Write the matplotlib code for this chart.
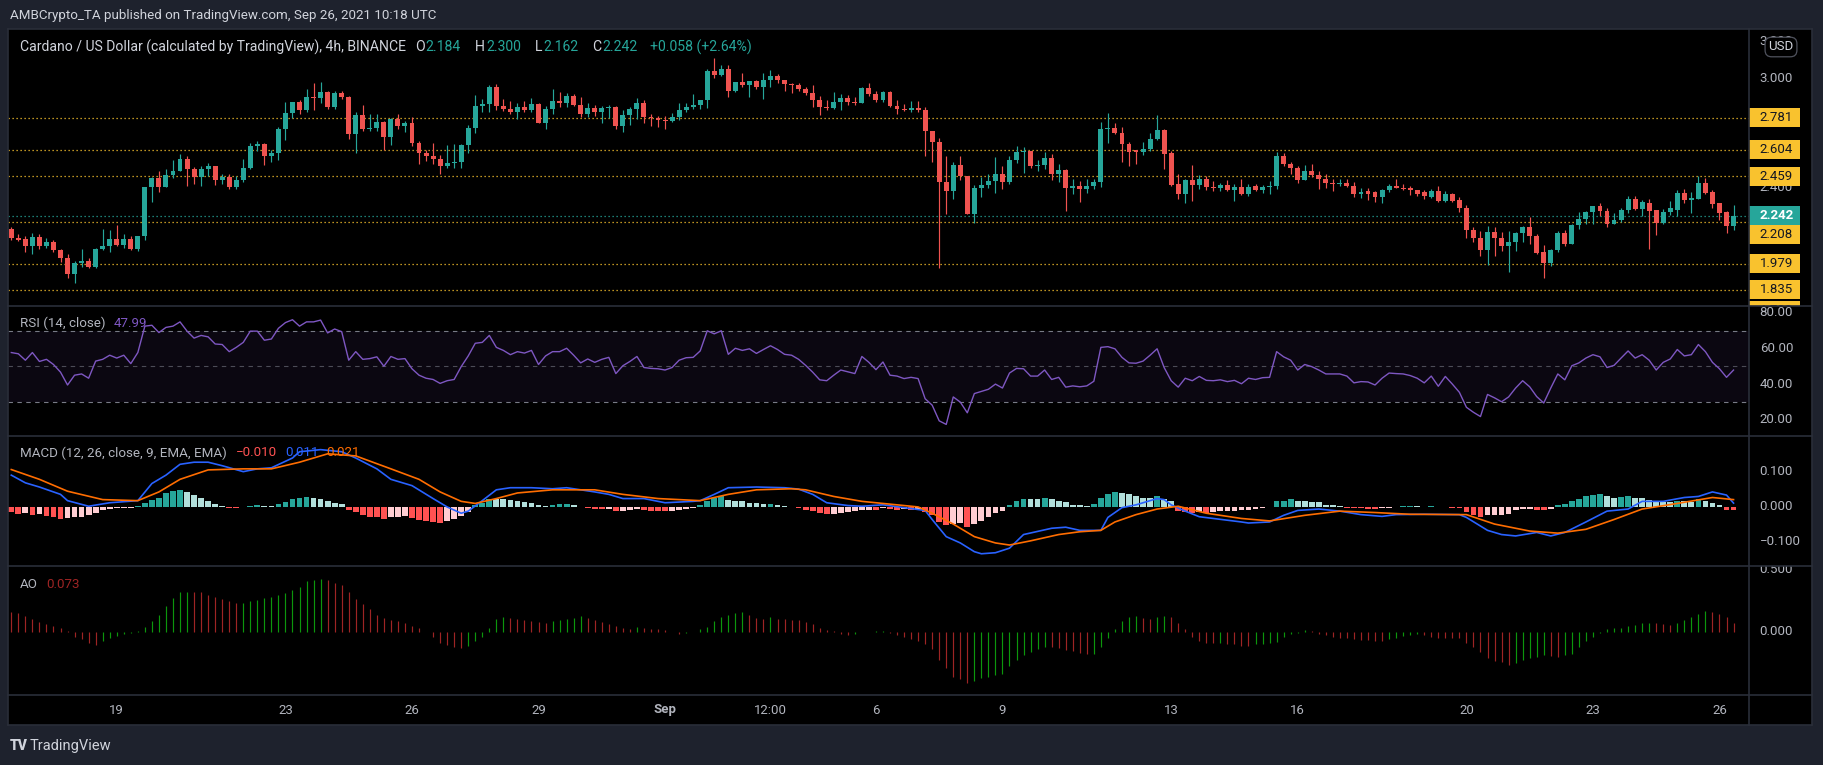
import numpy as np
import pandas as pd
import matplotlib
matplotlib.use('Agg')
import matplotlib.pyplot as plt
import matplotlib.transforms as mtransforms
from matplotlib.patches import Rectangle
from matplotlib.lines import Line2D

plt.rcParams['font.family'] = ['Roboto', 'DejaVu Sans']

# ---- 4h ADA/USD candles, first bar 2021-08-16 12:00 ----
bar_start = pd.Timestamp('2021-08-16 12:00')

opens = [
    2.171, 2.12, 2.112, 2.075, 2.126, 2.075, 2.10, 2.051, 2.01, 1.92,
    1.984, 1.995, 1.96, 2.06, 2.077, 2.112, 2.082, 2.112, 2.06, 2.13,
    2.402, 2.447, 2.40, 2.467, 2.49, 2.556, 2.498, 2.456, 2.50, 2.514,
    2.44, 2.456, 2.40, 2.44, 2.502, 2.626, 2.635, 2.572, 2.586, 2.717,
    2.808, 2.867, 2.825, 2.895, 2.888, 2.923, 2.843, 2.918, 2.895, 2.69,
    2.795, 2.72, 2.727, 2.76, 2.673, 2.773, 2.736, 2.75, 2.642, 2.586,
    2.568, 2.556, 2.514, 2.533, 2.537, 2.63, 2.724, 2.848, 2.857, 2.951,
    2.848, 2.83, 2.813, 2.841, 2.825, 2.855, 2.75, 2.832, 2.872, 2.86,
    2.90, 2.853, 2.80, 2.836, 2.813, 2.836, 2.843, 2.736, 2.797, 2.83,
    2.86, 2.783, 2.778, 2.77, 2.766, 2.785, 2.825, 2.843, 2.85, 2.88,
    3.04, 3.019, 3.05, 2.93, 2.977, 2.96, 2.984, 2.953, 2.988, 3.012,
    2.988, 2.965, 2.96, 2.94, 2.918, 2.88, 2.843, 2.836, 2.867, 2.888,
    2.867, 2.86, 2.946, 2.914, 2.88, 2.923, 2.846, 2.83, 2.825, 2.836,
    2.825, 2.706, 2.65, 2.43, 2.376, 2.521, 2.458, 2.25, 2.393, 2.41,
    2.435, 2.474, 2.428, 2.549, 2.591, 2.598, 2.516, 2.521, 2.561, 2.474,
    2.493, 2.393, 2.404, 2.39, 2.404, 2.43, 2.717, 2.724, 2.70, 2.638,
    2.603, 2.591, 2.61, 2.664, 2.715, 2.586, 2.418, 2.362, 2.44, 2.41,
    2.444, 2.402, 2.397, 2.413, 2.386, 2.402, 2.362, 2.405, 2.386, 2.402,
    2.407, 2.57, 2.528, 2.504, 2.44, 2.488, 2.465, 2.446, 2.42, 2.416,
    2.423, 2.404, 2.364, 2.379, 2.37, 2.346, 2.381, 2.406, 2.397, 2.397,
    2.381, 2.374, 2.346, 2.378, 2.325, 2.362, 2.327, 2.285, 2.166, 2.12,
    2.051, 2.154, 2.117, 2.077, 2.098, 2.145, 2.178, 2.131, 2.044, 1.984,
    2.054, 2.147, 2.089, 2.192, 2.222, 2.264, 2.297, 2.269, 2.199, 2.217,
    2.276, 2.334, 2.28, 2.311, 2.273, 2.203, 2.264, 2.276, 2.369, 2.327,
    2.334, 2.423, 2.374, 2.311, 2.264, 2.184,
]
highs = [
    2.18, 2.14, 2.128, 2.147, 2.14, 2.117, 2.11, 2.06, 2.03, 1.995,
    2.06, 2.01, 2.065, 2.17, 2.166, 2.19, 2.14, 2.13, 2.13, 2.402,
    2.455, 2.49, 2.50, 2.55, 2.584, 2.568, 2.51, 2.514, 2.533, 2.516,
    2.474, 2.47, 2.46, 2.556, 2.643, 2.656, 2.64, 2.605, 2.731, 2.87,
    2.87, 2.88, 2.941, 2.97, 2.976, 2.93, 2.93, 2.93, 2.90, 2.813,
    2.853, 2.80, 2.80, 2.766, 2.778, 2.80, 2.766, 2.785, 2.656, 2.603,
    2.642, 2.577, 2.633, 2.638, 2.638, 2.743, 2.907, 2.883, 2.96, 2.965,
    2.883, 2.876, 2.86, 2.871, 2.89, 2.86, 2.848, 2.94, 2.923, 2.918,
    2.914, 2.895, 2.86, 2.853, 2.848, 2.853, 2.848, 2.825, 2.843, 2.89,
    2.88, 2.80, 2.79, 2.79, 2.81, 2.86, 2.86, 2.914, 2.88, 3.047,
    3.11, 3.07, 3.07, 2.98, 3.03, 2.984, 2.99, 3.03, 3.044, 3.023,
    2.99, 2.975, 2.97, 2.953, 2.96, 2.90, 2.88, 2.925, 2.91, 2.907,
    2.895, 2.95, 2.97, 2.93, 2.93, 2.93, 2.88, 2.855, 2.876, 2.876,
    2.84, 2.71, 2.67, 2.568, 2.537, 2.568, 2.458, 2.41, 2.456, 2.47,
    2.563, 2.516, 2.572, 2.626, 2.619, 2.598, 2.549, 2.591, 2.579, 2.526,
    2.498, 2.444, 2.435, 2.444, 2.444, 2.76, 2.808, 2.755, 2.73, 2.65,
    2.605, 2.65, 2.70, 2.794, 2.717, 2.60, 2.47, 2.446, 2.521, 2.467,
    2.458, 2.435, 2.423, 2.44, 2.416, 2.446, 2.414, 2.414, 2.411, 2.435,
    2.591, 2.586, 2.54, 2.516, 2.521, 2.526, 2.488, 2.472, 2.444, 2.444,
    2.446, 2.428, 2.395, 2.393, 2.379, 2.388, 2.418, 2.446, 2.416, 2.406,
    2.381, 2.381, 2.39, 2.404, 2.376, 2.367, 2.346, 2.30, 2.18, 2.159,
    2.185, 2.182, 2.15, 2.159, 2.152, 2.187, 2.234, 2.14, 2.082, 2.058,
    2.159, 2.164, 2.199, 2.264, 2.269, 2.297, 2.311, 2.287, 2.257, 2.283,
    2.35, 2.35, 2.327, 2.334, 2.273, 2.28, 2.323, 2.381, 2.39, 2.374,
    2.458, 2.451, 2.386, 2.311, 2.269, 2.300,
]
lows = [
    2.11, 2.105, 2.042, 2.03, 2.06, 2.065, 2.04, 1.988, 1.90, 1.872,
    1.96, 1.955, 1.955, 2.055, 2.04, 2.075, 2.065, 2.054, 2.05, 2.11,
    2.32, 2.37, 2.40, 2.45, 2.486, 2.405, 2.416, 2.405, 2.46, 2.41,
    2.416, 2.39, 2.39, 2.43, 2.498, 2.596, 2.52, 2.537, 2.549, 2.657,
    2.778, 2.80, 2.813, 2.825, 2.86, 2.83, 2.83, 2.884, 2.666, 2.59,
    2.708, 2.708, 2.708, 2.603, 2.63, 2.72, 2.703, 2.626, 2.526, 2.545,
    2.526, 2.47, 2.505, 2.502, 2.502, 2.586, 2.696, 2.813, 2.813, 2.825,
    2.82, 2.80, 2.773, 2.813, 2.813, 2.75, 2.72, 2.80, 2.843, 2.843,
    2.848, 2.783, 2.783, 2.79, 2.755, 2.778, 2.72, 2.703, 2.743, 2.773,
    2.75, 2.736, 2.73, 2.72, 2.76, 2.77, 2.813, 2.83, 2.83, 2.836,
    3.0, 3.01, 2.895, 2.925, 2.953, 2.895, 2.94, 2.883, 2.953, 2.97,
    2.93, 2.918, 2.93, 2.907, 2.843, 2.797, 2.825, 2.83, 2.825, 2.853,
    2.853, 2.86, 2.90, 2.867, 2.87, 2.84, 2.80, 2.818, 2.813, 2.813,
    2.573, 2.54, 1.955, 2.253, 2.334, 2.44, 2.25, 2.20, 2.346, 2.393,
    2.365, 2.388, 2.416, 2.533, 2.479, 2.502, 2.49, 2.498, 2.44, 2.428,
    2.27, 2.362, 2.315, 2.369, 2.39, 2.40, 2.643, 2.69, 2.537, 2.514,
    2.526, 2.575, 2.598, 2.657, 2.50, 2.404, 2.334, 2.31, 2.322, 2.39,
    2.386, 2.376, 2.376, 2.379, 2.323, 2.357, 2.353, 2.376, 2.365, 2.362,
    2.39, 2.514, 2.474, 2.423, 2.437, 2.456, 2.388, 2.393, 2.38, 2.404,
    2.399, 2.346, 2.341, 2.327, 2.315, 2.311, 2.37, 2.395, 2.381, 2.358,
    2.348, 2.334, 2.341, 2.318, 2.318, 2.318, 2.26, 2.117, 2.10, 2.019,
    1.97, 2.023, 2.049, 1.93, 2.049, 2.10, 2.089, 2.03, 1.902, 1.967,
    2.042, 2.077, 2.084, 2.171, 2.199, 2.199, 2.24, 2.18, 2.194, 2.21,
    2.257, 2.276, 2.24, 2.061, 2.138, 2.199, 2.245, 2.24, 2.311, 2.259,
    2.334, 2.362, 2.287, 2.217, 2.147, 2.162,
]
closes = [
    2.117, 2.11, 2.075, 2.126, 2.075, 2.10, 2.051, 2.007, 1.92, 1.984,
    1.995, 1.96, 2.06, 2.077, 2.112, 2.082, 2.112, 2.06, 2.13, 2.402,
    2.447, 2.40, 2.467, 2.49, 2.556, 2.498, 2.456, 2.50, 2.514, 2.44,
    2.456, 2.40, 2.44, 2.502, 2.626, 2.635, 2.572, 2.586, 2.717, 2.808,
    2.867, 2.825, 2.895, 2.888, 2.923, 2.843, 2.918, 2.895, 2.69, 2.795,
    2.72, 2.727, 2.76, 2.673, 2.773, 2.736, 2.75, 2.642, 2.586, 2.568,
    2.556, 2.514, 2.533, 2.537, 2.63, 2.724, 2.848, 2.857, 2.951, 2.848,
    2.83, 2.813, 2.841, 2.825, 2.855, 2.75, 2.832, 2.872, 2.86, 2.90,
    2.853, 2.80, 2.836, 2.813, 2.836, 2.843, 2.736, 2.797, 2.83, 2.86,
    2.783, 2.778, 2.77, 2.766, 2.785, 2.825, 2.843, 2.85, 2.88, 3.04,
    3.019, 3.05, 2.93, 2.977, 2.96, 2.984, 2.953, 2.988, 3.012, 2.988,
    2.965, 2.96, 2.94, 2.918, 2.88, 2.843, 2.836, 2.867, 2.888, 2.867,
    2.86, 2.946, 2.914, 2.88, 2.923, 2.846, 2.83, 2.825, 2.836, 2.825,
    2.706, 2.65, 2.43, 2.376, 2.521, 2.458, 2.25, 2.393, 2.41, 2.435,
    2.474, 2.428, 2.549, 2.591, 2.598, 2.516, 2.521, 2.561, 2.474, 2.493,
    2.393, 2.404, 2.39, 2.404, 2.43, 2.717, 2.724, 2.70, 2.638, 2.591,
    2.591, 2.61, 2.664, 2.715, 2.584, 2.411, 2.362, 2.44, 2.41, 2.444,
    2.402, 2.397, 2.413, 2.386, 2.402, 2.362, 2.402, 2.386, 2.402, 2.407,
    2.57, 2.528, 2.504, 2.44, 2.488, 2.465, 2.446, 2.42, 2.416, 2.423,
    2.404, 2.364, 2.374, 2.364, 2.346, 2.381, 2.404, 2.397, 2.39, 2.381,
    2.364, 2.353, 2.378, 2.325, 2.362, 2.322, 2.283, 2.166, 2.117, 2.051,
    2.154, 2.117, 2.077, 2.098, 2.145, 2.178, 2.131, 2.037, 1.984, 2.054,
    2.147, 2.089, 2.192, 2.222, 2.264, 2.297, 2.269, 2.199, 2.217, 2.276,
    2.334, 2.28, 2.315, 2.269, 2.203, 2.264, 2.283, 2.369, 2.327, 2.341,
    2.423, 2.369, 2.304, 2.259, 2.187, 2.242,
]

# horizontal levels drawn on the chart
levels = [2.781, 2.604, 2.459, 2.208, 1.979, 1.835, 1.72]

# ---- RSI (14) ----
rsi = [
    57.8, 57.1, 53.5, 57.8, 52.8, 54.0, 51.1, 46.8, 39.6, 45.1,
    45.8, 43.4, 53.0, 54.0, 56.3, 54.7, 56.3, 51.6, 57.8, 72.6,
    73.1, 69.0, 71.9, 72.6, 75.0, 69.8, 65.9, 67.4, 66.6, 62.6,
    62.3, 58.3, 60.7, 63.5, 69.8, 69.8, 64.7, 65.4, 71.4, 74.6,
    76.2, 72.6, 75.0, 75.0, 76.0, 68.8, 71.0, 69.5, 53.5, 58.3,
    54.0, 54.4, 55.4, 50.1, 55.6, 54.0, 54.4, 48.7, 45.1, 43.4,
    42.7, 40.5, 42.0, 42.7, 49.9, 55.9, 63.0, 63.5, 67.4, 60.7,
    59.0, 56.6, 58.3, 57.5, 59.0, 51.1, 55.9, 58.3, 58.3, 60.2,
    56.3, 52.0, 54.2, 52.3, 54.0, 55.1, 46.0, 50.4, 52.8, 55.6,
    49.4, 48.9, 48.7, 48.0, 49.4, 53.5, 54.9, 55.1, 58.7, 70.0,
    68.3, 70.0, 56.8, 60.2, 59.0, 59.9, 57.3, 59.5, 61.6, 59.5,
    56.8, 56.3, 54.0, 50.6, 46.8, 42.5, 42.0, 45.1, 48.0, 47.0,
    46.0, 55.6, 52.3, 48.2, 52.5, 45.1, 44.6, 43.2, 43.9, 43.2,
    31.9, 28.3, 19.5, 17.5, 32.9, 30.0, 24.0, 34.8, 36.0, 37.2,
    40.1, 37.9, 46.3, 48.9, 48.7, 44.6, 44.6, 48.0, 42.7, 43.9,
    38.4, 39.1, 38.6, 39.1, 41.7, 60.7, 61.1, 59.9, 55.1, 52.0,
    51.8, 53.0, 56.3, 59.9, 49.4, 42.0, 38.4, 43.4, 42.0, 44.4,
    42.2, 42.0, 42.5, 41.5, 42.2, 40.3, 43.4, 42.7, 43.7, 43.9,
    58.3, 55.4, 53.5, 48.0, 51.1, 49.9, 48.0, 45.8, 45.8, 45.8,
    44.6, 40.8, 41.5, 41.3, 39.6, 43.4, 46.3, 46.0, 45.8, 44.9,
    43.4, 40.8, 44.6, 38.9, 44.4, 40.1, 35.5, 27.1, 24.3, 21.9,
    34.3, 32.4, 30.2, 32.9, 37.9, 42.0, 38.6, 33.1, 29.5, 37.9,
    45.8, 42.5, 50.4, 52.0, 54.7, 56.6, 55.4, 49.4, 50.6, 54.7,
    58.7, 54.7, 56.6, 53.5, 48.0, 52.3, 54.2, 59.5, 55.9, 56.6,
    62.3, 58.3, 52.3, 48.7, 43.9, 47.99,
]

# ---- MACD (12, 26, 9) ----
macd_hist = [
    -0.015, -0.020, -0.018, -0.022, -0.020, -0.025, -0.028, -0.034, -0.032, -0.030,
    -0.028, -0.022, -0.016, -0.010, -0.006, -0.004, -0.003, -0.002, 0.003, 0.012,
    0.020, 0.027, 0.040, 0.046, 0.048, 0.043, 0.035, 0.025, 0.017, 0.009,
    0.004, -0.002, -0.003, -0.001, 0.003, 0.006, 0.004, 0.0035, 0.008, 0.015,
    0.024, 0.027, 0.028, 0.026, 0.022, 0.016, 0.012, 0.008, -0.010, -0.014,
    -0.022, -0.028, -0.030, -0.034, -0.030, -0.028, -0.027, -0.032, -0.038, -0.040,
    -0.043, -0.045, -0.040, -0.035, -0.027, -0.015, 0.006, 0.012, 0.024, 0.023,
    0.022, 0.020, 0.017, 0.014, 0.010, 0.005, 0.004, 0.006, 0.007, 0.008,
    0.006, -0.001, -0.002, -0.006, -0.007, -0.005, -0.012, -0.011, -0.010, -0.007,
    -0.010, -0.011, -0.012, -0.013, -0.011, -0.008, -0.005, -0.002, 0.006, 0.018,
    0.026, 0.030, 0.021, 0.018, 0.016, 0.012, 0.010, 0.008, 0.009, 0.006,
    0.004, -0.001, -0.004, -0.010, -0.012, -0.016, -0.020, -0.019, -0.016, -0.014,
    -0.012, -0.009, -0.008, -0.009, -0.003, -0.006, -0.008, -0.006, -0.009, -0.008,
    -0.015, -0.024, -0.043, -0.052, -0.049, -0.046, -0.057, -0.049, -0.039, -0.030,
    -0.018, -0.012, 0.006, 0.016, 0.024, 0.0235, 0.023, 0.027, 0.022, 0.018,
    0.013, 0.006, 0.005, 0.004, 0.007, 0.026, 0.038, 0.044, 0.040, 0.036,
    0.030, 0.027, 0.026, 0.030, 0.023, 0.016, -0.012, -0.014, -0.018, -0.014,
    -0.018, -0.014, -0.013, -0.0125, -0.012, -0.010, -0.008, -0.006, -0.003, -0.001,
    0.016, 0.018, 0.022, 0.018, 0.016, 0.015, 0.013, 0.006, 0.005, 0.004,
    -0.002, -0.0025, -0.004, -0.006, -0.007, -0.004, -0.002, -0.001, 0.003, 0.004,
    0.003, -0.001, 0.004, -0.001, -0.0005, -0.002, -0.003, -0.015, -0.022, -0.030,
    -0.024, -0.023, -0.022, -0.021, -0.010, -0.007, -0.005, -0.008, -0.009, -0.006,
    0.005, 0.008, 0.016, 0.022, 0.030, 0.033, 0.036, 0.030, 0.027, 0.028,
    0.030, 0.027, 0.026, 0.021, 0.016, 0.015, 0.014, 0.018, 0.016, 0.015,
    0.024, 0.018, 0.012, 0.005, -0.008, -0.010,
]
macd_bar = [0, 2, 4, 7, 8, 11, 14, 18, 20, 22, 24, 26, 28, 30, 33, 35, 37, 40, 41, 44,
            47, 49, 52, 54, 57, 60, 62, 64, 65, 67, 69, 71, 74, 77, 79, 83, 85, 87, 90, 93,
            97, 98, 100, 102, 106, 110, 112, 114, 116, 119, 121, 124, 127, 130, 131, 133, 135, 137, 138, 140,
            142, 144, 148, 150, 152, 155, 156, 158, 160, 163, 164, 165, 167, 169, 171, 175, 176, 179, 181, 183,
            186, 189, 192, 195, 197, 201, 206, 207, 210, 212, 214, 217, 219, 221, 224, 227, 230, 232, 235, 238,
            240, 242, 244, 245]
macd_line = [0.091, 0.069, 0.057, 0.036, 0.018, 0.002, 0.012, 0.018, 0.067, 0.091,
             0.122, 0.128, 0.128, 0.118, 0.101, 0.109, 0.112, 0.14, 0.158, 0.164,
             0.158, 0.14, 0.109, 0.079, 0.061, 0.024, 0.0, -0.018, -0.012, 0.018,
             0.049, 0.055, 0.055, 0.052, 0.055, 0.043, 0.036, 0.024, 0.024, 0.012,
             0.016, 0.018, 0.036, 0.055, 0.057, 0.055, 0.051, 0.036, 0.012, 0.004,
             0.002, 0.006, -0.002, -0.01, -0.036, -0.085, -0.103, -0.128, -0.134, -0.131,
             -0.118, -0.079, -0.061, -0.058, -0.067, -0.067, -0.03, -0.002, 0.006, 0.024,
             0.021, 0.006, -0.012, -0.028, -0.033, -0.043, -0.046, -0.043, -0.024, -0.01,
             -0.006, -0.012, -0.022, -0.027, -0.022, -0.021, -0.022, -0.03, -0.067, -0.079,
             -0.083, -0.073, -0.083, -0.073, -0.043, -0.012, -0.006, 0.016, 0.016, 0.027,
             0.03, 0.043, 0.034, 0.011]
signal_bar = [0, 4, 8, 13, 18, 21, 24, 28, 33, 37, 41, 45, 49, 54, 58, 61, 64, 66, 69, 72,
              77, 83, 87, 92, 98, 102, 106, 111, 113, 117, 121, 124, 129, 131, 134, 137, 140, 142, 145, 149,
              152, 155, 157, 160, 163, 166, 170, 175, 179, 184, 189, 194, 199, 207, 211, 216, 220, 224, 228, 232,
              237, 242, 245]
signal_line = [0.107, 0.079, 0.045, 0.021, 0.018, 0.043, 0.079, 0.106, 0.109, 0.109,
               0.128, 0.152, 0.146, 0.109, 0.079, 0.043, 0.016, 0.01, 0.024, 0.04,
               0.049, 0.049, 0.036, 0.024, 0.018, 0.036, 0.049, 0.052, 0.049, 0.03,
               0.016, 0.01, 0.0, -0.018, -0.049, -0.085, -0.103, -0.109, -0.097, -0.079,
               -0.071, -0.067, -0.043, -0.022, -0.006, 0.002, -0.018, -0.033, -0.04, -0.024,
               -0.012, -0.016, -0.021, -0.022, -0.049, -0.069, -0.075, -0.064, -0.036, -0.006,
               0.01, 0.027, 0.021]

# ---- Awesome Oscillator ----
ao = [
    0.165, 0.154, 0.127, 0.103, 0.082, 0.065, 0.051, 0.034, 0.007, -0.041,
    -0.058, -0.086, -0.103, -0.069, -0.051, -0.034, -0.017, -0.007, 0.007, 0.041,
    0.086, 0.137, 0.206, 0.275, 0.319, 0.326, 0.324, 0.319, 0.302, 0.285,
    0.268, 0.251, 0.233, 0.236, 0.247, 0.257, 0.275, 0.285, 0.299, 0.312,
    0.336, 0.36, 0.41, 0.42, 0.43, 0.42, 0.395, 0.378, 0.326, 0.268,
    0.223, 0.189, 0.137, 0.11, 0.096, 0.086, 0.069, 0.051, 0.034, 0.003,
    -0.041, -0.086, -0.103, -0.12, -0.13, -0.11, -0.075, -0.041, 0.034, 0.103,
    0.12, 0.11, 0.103, 0.096, 0.086, 0.079, 0.075, 0.086, 0.096, 0.103,
    0.11, 0.127, 0.113, 0.096, 0.082, 0.062, 0.051, 0.034, 0.027, 0.041,
    0.034, 0.027, 0.021, 0.014, 0.0, -0.017, -0.01, 0.0, 0.021, 0.041,
    0.086, 0.12, 0.137, 0.155, 0.161, 0.137, 0.113, 0.106, 0.117, 0.106,
    0.103, 0.1, 0.096, 0.082, 0.062, 0.034, 0.017, 0.007, -0.017, -0.024,
    -0.017, -0.003, 0.003, 0.006, 0.008, -0.007, -0.024, -0.041, -0.055, -0.069,
    -0.093, -0.137, -0.223, -0.292, -0.36, -0.377, -0.412, -0.395, -0.371, -0.36,
    -0.35, -0.336, -0.275, -0.226, -0.189, -0.165, -0.137, -0.12, -0.125, -0.13,
    -0.144, -0.154, -0.172, -0.18, -0.175, -0.12, -0.051, 0.024, 0.086, 0.12,
    0.13, 0.11, 0.103, 0.12, 0.13, 0.12, 0.069, 0.024, -0.041, -0.069,
    -0.086, -0.089, -0.087, -0.093, -0.096, -0.11, -0.112, -0.096, -0.093, -0.086,
    -0.079, -0.041, -0.017, -0.007, 0.017, 0.007, -0.017, -0.027, -0.041, -0.045,
    -0.048, -0.055, -0.062, -0.064, -0.069, -0.075, -0.058, -0.048, -0.034, -0.024,
    -0.017, -0.027, -0.041, -0.045, -0.047, -0.048, -0.051, -0.086, -0.12, -0.165,
    -0.206, -0.233, -0.24, -0.264, -0.25, -0.223, -0.206, -0.199, -0.189, -0.192,
    -0.199, -0.189, -0.178, -0.12, -0.075, -0.041, -0.007, 0.024, 0.034, 0.036,
    0.048, 0.058, 0.069, 0.072, 0.069, 0.062, 0.055, 0.069, 0.096, 0.12,
    0.144, 0.172, 0.165, 0.144, 0.12, 0.073,
]

# time axis labels
tick_dates = ['2021-08-19 00:00', '2021-08-23 00:00', '2021-08-26 00:00', '2021-08-29 00:00',
              '2021-09-01 00:00', '2021-09-03 12:00', '2021-09-06 00:00', '2021-09-09 00:00',
              '2021-09-13 00:00', '2021-09-16 00:00', '2021-09-20 00:00', '2021-09-23 00:00',
              '2021-09-26 00:00']
tick_labels = ['19', '23', '26', '29', 'Sep', '12:00', '6', '9', '13', '16', '20', '23', '26']

# ---------------------------------------------------------------
W, H = 1823, 765
BG = '#1e222d'
LINE = '#2a2e39'
TXT = '#b2b5be'
LIGHT = '#d1d4dc'
UP, DOWN = '#26a69a', '#ef5350'
YELLOW = '#f9c22e'
AO_UP, AO_DN = '#0c960c', '#9e2424'

fig = plt.figure(figsize=(W / 100, H / 100), dpi=100, facecolor=BG)


def px_axes(x0, y0, x1, y1):
    ax = fig.add_axes([x0 / W, 1 - y1 / H, (x1 - x0) / W, (y1 - y0) / H])
    ax.set_facecolor('#000000')
    for s in ax.spines.values():
        s.set_visible(False)
    ax.set_xticks([])
    ax.set_yticks([])
    return ax


L, R, SR = 8, 1749, 1812
rows = [(29, 306), (306, 436), (436, 566), (566, 695)]
ylims = [(1.7452, 3.2697), (11.0, 83.9), (-0.169, 0.203), (-0.508, 0.532)]
xlim = (-0.47, 247.2)

panes, scales = [], []
for (y0, y1), yl in zip(rows, ylims):
    a = px_axes(L, y0, R, y1)
    a.set_xlim(*xlim)
    a.set_ylim(*yl)
    s = px_axes(R, y0, SR, y1)
    s.set_xlim(0, 1)
    s.set_ylim(*yl)
    panes.append(a)
    scales.append(s)
ax_p, ax_r, ax_m, ax_a = panes
ax_t = px_axes(L, 695, R, 725)
ax_t.set_xlim(*xlim)
ax_t.set_ylim(0, 1)
px_axes(R, 695, SR, 725)

x = np.arange(len(closes))
o, h, lo, c = (np.array(v) for v in (opens, highs, lows, closes))

# ---- price pane ----
for lv in levels:
    ax_p.axhline(lv, color=YELLOW, lw=0.9, ls=(0, (1, 2.2)), zorder=1)
ax_p.axhline(c[-1], color=UP, lw=0.9, ls=(0, (1, 2.2)), zorder=1)
ccol = np.where(c >= o, UP, DOWN)
ax_p.vlines(x, lo, h, colors=ccol, lw=0.85, zorder=2)
ax_p.bar(x, np.maximum(np.abs(c - o), 0.004), bottom=np.minimum(o, c), width=0.7,
         color=ccol, linewidth=0, zorder=3)

# ---- RSI pane ----
ax_r.axhspan(30, 70, color='#7e57c2', alpha=0.09, lw=0)
for lv, al in ((70, 1.0), (50, 0.6), (30, 1.0)):
    ax_r.axhline(lv, color='#787b86', lw=0.8, ls=(0, (4, 4)), alpha=al)
ax_r.plot(x, rsi, color='#7e57c2', lw=1.0)

# ---- MACD pane ----
hist = np.array(macd_hist)
prev = np.r_[hist[0], hist[:-1]]
hcol = np.where(hist >= 0, np.where(hist >= prev, '#26a69a', '#b2dfdb'),
                np.where(hist <= prev, '#ff5252', '#ffcdd2'))
ax_m.bar(x, hist, width=0.82, color=hcol, linewidth=0)
ax_m.plot(macd_bar, macd_line, color='#2962ff', lw=1.2)
ax_m.plot(signal_bar, signal_line, color='#ff6d00', lw=1.2)

# ---- AO pane ----
aov = np.array(ao)
rising = np.r_[False, np.diff(aov) > 0]
ax_a.vlines(x, 0, aov, colors=np.where(rising, AO_UP, AO_DN), lw=0.85)

# ---- time axis ----
pos = (pd.to_datetime(tick_dates, format='%Y-%m-%d %H:%M') - bar_start) / pd.Timedelta(hours=4)
for p, lab in zip(pos, tick_labels):
    ax_t.text(p, 0.5, lab, ha='center', va='center', color=TXT, fontsize=9.5,
              fontweight='bold' if lab == 'Sep' else 'normal')

# ---- price-level tags, pushed apart so they don't overlap ----
box_h = 19 * (ylims[0][1] - ylims[0][0]) / (rows[0][1] - rows[0][0])
tags = sorted([(v, 'lvl') for v in levels] + [(c[-1], 'last')], key=lambda t: -t[0])
tag_y = []
last_y = None
for v, kind in tags:
    y = v if last_y is None else min(v, last_y - box_h)
    last_y = y
    tag_y.append((v, y, kind))


# ---- right scales ----
def scale_labels(ax, ticks, fmt, covered=()):
    tr = mtransforms.blended_transform_factory(ax.transAxes, ax.transData)
    for t in ticks:
        # a tick label sitting under a price tag is hidden, as on the original
        if any(abs(t - cy) < box_h / 2 for cy in covered):
            continue
        ax.text(0.17, t, fmt.format(t).replace('-', '\u2212'), transform=tr, ha='left',
                va='center', color=TXT, fontsize=9.5, clip_on=True, zorder=1)
    return tr


tr_p = scale_labels(scales[0], [3.2, 3.0, 2.8, 2.6, 2.4, 2.2, 2.0, 1.8], '{:.3f}',
                    covered=[y for _, y, _ in tag_y])
scale_labels(scales[1], [80, 60, 40, 20], '{:.2f}')
scale_labels(scales[2], [0.1, 0.0, -0.1], '{:.3f}')
scale_labels(scales[3], [0.5, 0.0], '{:.3f}')

for v, y, kind in tag_y:
    fc = UP if kind == 'last' else YELLOW
    scales[0].add_patch(Rectangle((0, y - box_h / 2), 0.81, box_h, transform=tr_p,
                                  facecolor=fc, edgecolor='none', clip_on=True, zorder=3))
    scales[0].text(0.17, y, f'{v:.3f}', transform=tr_p, ha='left', va='center',
                   color='white' if kind == 'last' else '#131722', fontsize=9.5,
                   fontweight='bold' if kind == 'last' else 'normal', clip_on=True, zorder=4)

fig.text(1781 / W, 1 - 47 / H, 'USD', ha='center', va='center', color=LIGHT, fontsize=9.5,
         bbox=dict(boxstyle='round,pad=0.25,rounding_size=0.5', fc='#000000', ec='#50535e', lw=0.9))


# ---- frame lines ----
def fline(x0, y0, x1, y1):
    fig.add_artist(Line2D([x0 / W, x1 / W], [1 - y0 / H, 1 - y1 / H], color=LINE, lw=1.2))


for yy in (306, 436, 566, 695):
    fline(L, yy, SR, yy)
fline(R, 29, R, 725)
fline(L, 29, SR, 29)
fline(L, 725, SR, 725)
fline(L, 29, L, 725)
fline(SR, 29, SR, 725)

# ---- texts ----
renderer = fig.canvas.get_renderer()


def text_run(x_px, y_px, pieces, size=9):
    xx = x_px
    for s, col, gap in pieces:
        t = fig.text(xx / W, 1 - y_px / H, s, color=col, fontsize=size, ha='left', va='center')
        xx += t.get_window_extent(renderer).width + gap


fig.text(10 / W, 1 - 16 / H, 'AMBCrypto_TA published on TradingView.com, Sep 26, 2021 10:18 UTC',
         color=LIGHT, fontsize=9.6, ha='left', va='center')

text_run(20, 47, [
    ('Cardano / US Dollar (calculated by TradingView), 4h, BINANCE', LIGHT, 9),
    ('O', LIGHT, 1), (f'{opens[-1]:.3f}', UP, 14),
    ('H', LIGHT, 1), (f'{highs[-1]:.3f}', UP, 14),
    ('L', LIGHT, 1), (f'{lows[-1]:.3f}', UP, 14),
    ('C', LIGHT, 1), (f'{closes[-1]:.3f}', UP, 12),
    ('+0.058 (+2.64%)', UP, 0),
], size=10.05)
text_run(20, 323, [('RSI (14, close)', TXT, 8), (f'{rsi[-1]:.2f}', '#7e57c2', 0)], size=9.6)
text_run(20, 453, [('MACD (12, 26, close, 9, EMA, EMA)', TXT, 9),
                   (f'{macd_hist[-1]:.3f}'.replace('-', '\u2212'), '#ff5252', 8),
                   (f'{macd_line[-1]:.3f}', '#2962ff', 8),
                   (f'{signal_line[-1]:.3f}', '#ff6d00', 0)], size=9.6)
text_run(20, 584, [('AO', TXT, 8), (f'{ao[-1]:.3f}', AO_DN, 0)], size=9.6)

fig.text(10 / W, 1 - 746 / H, 'TV', color=LIGHT, fontsize=10, fontweight='heavy',
         ha='left', va='center')
fig.text(30 / W, 1 - 746 / H, 'TradingView', color=LIGHT, fontsize=10.5, ha='left', va='center')

fig.savefig('out.png', dpi=100, facecolor=BG)
